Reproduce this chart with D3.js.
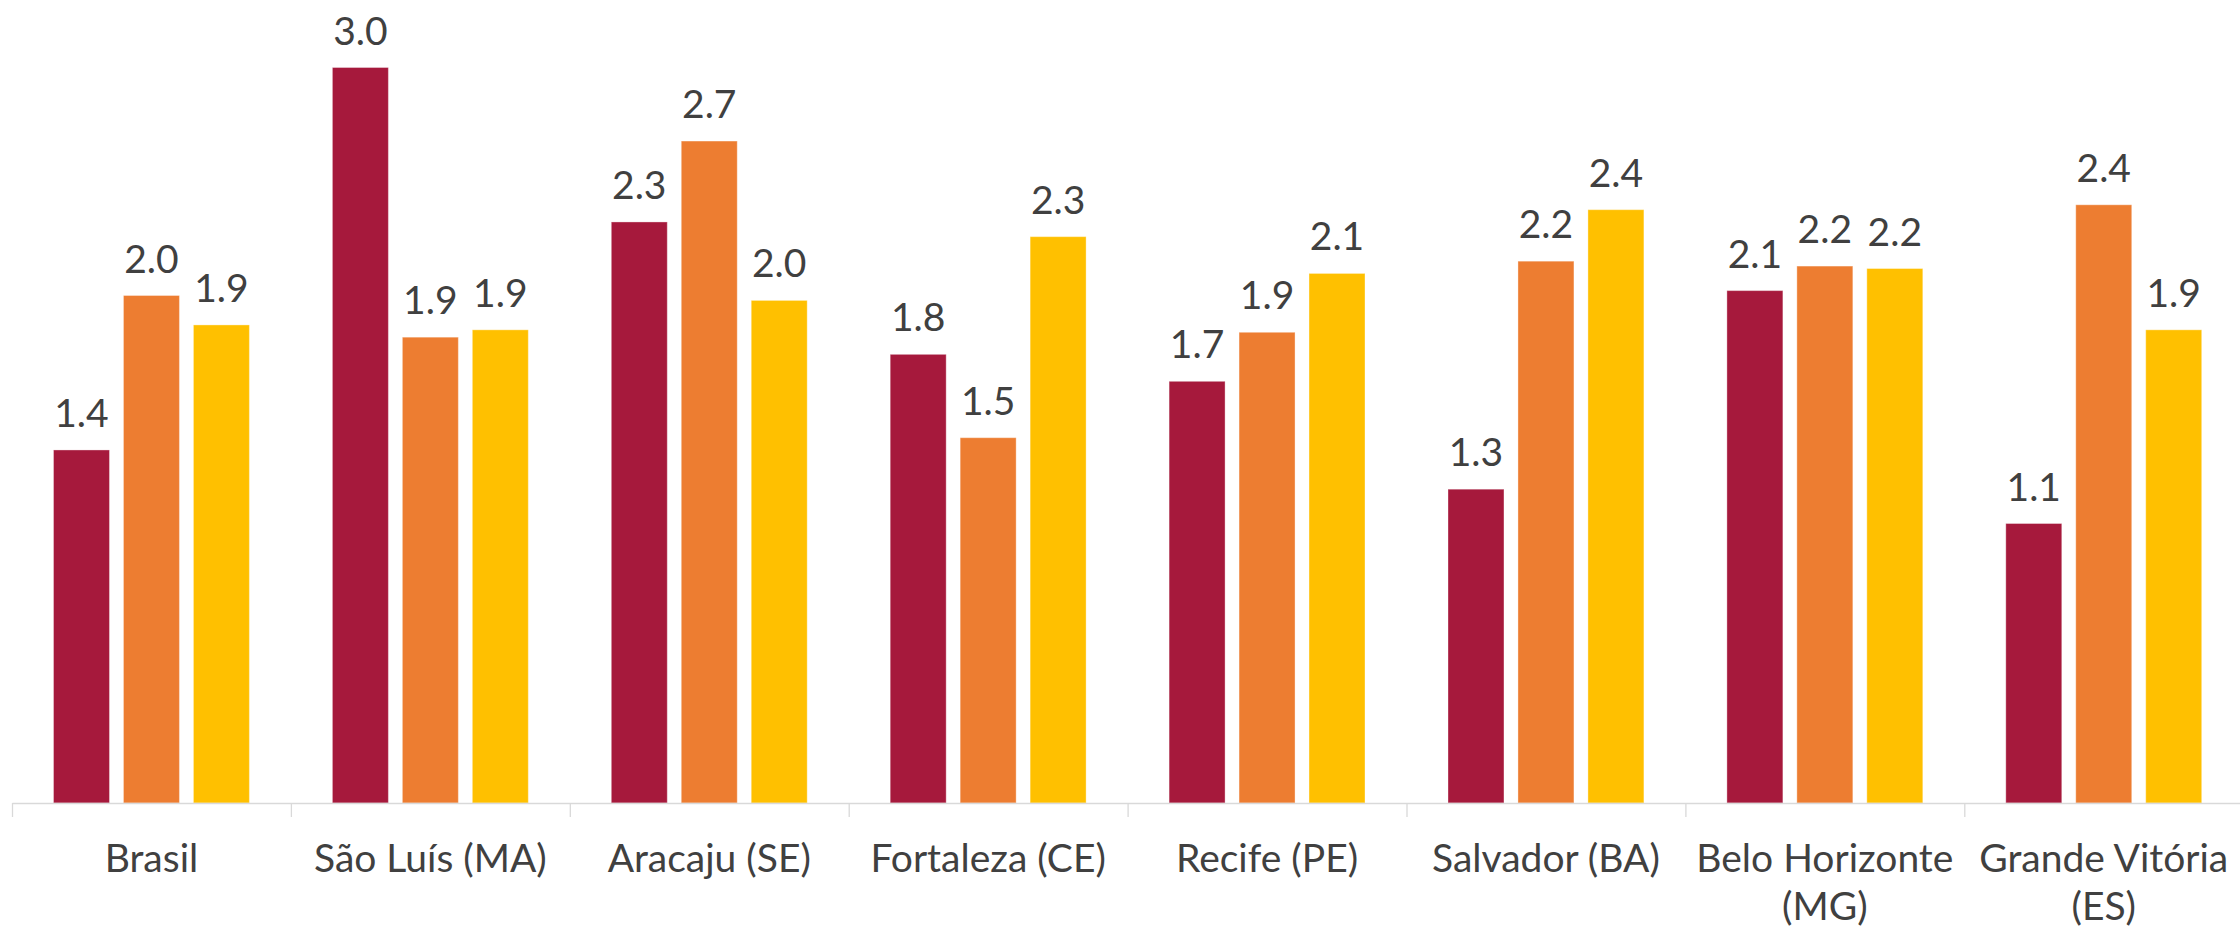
<!DOCTYPE html>
<html>
<head>
<meta charset="utf-8">
<script src="https://cdn.jsdelivr.net/npm/d3@7"></script>
<style>
  body { margin: 0; background: #fff; }
</style>
</head>
<body>
<script>
// Categories (x axis)
const categories = [
  "Brasil",
  "São Luís (MA)",
  "Aracaju (SE)",
  "Fortaleza (CE)",
  "Recife (PE)",
  "Salvador (BA)",
  "Belo Horizonte (MG)",
  "Grande Vitória (ES)",
];

// Bar values
const serie1 = [1.44, 3.0, 2.37, 1.83, 1.72, 1.28, 2.09, 1.14];
const serie2 = [2.07, 1.9, 2.7, 1.49, 1.92, 2.21, 2.19, 2.44];
const serie3 = [1.95, 1.93, 2.05, 2.31, 2.16, 2.42, 2.18, 1.93];

// Data labels as printed on the chart
const labels1 = ["1.4", "3.0", "2.3", "1.8", "1.7", "1.3", "2.1", "1.1"];
const labels2 = ["2.0", "1.9", "2.7", "1.5", "1.9", "2.2", "2.2", "2.4"];
const labels3 = ["1.9", "1.9", "2.0", "2.3", "2.1", "2.4", "2.2", "1.9"];

const seriesKeys = ["serie1", "serie2", "serie3"];
const colors = ["#A6193C", "#ED7D31", "#FFC000"];

function GroupedBars(
  container,
  {
    width = 2240,
    height = 931,
    marginLeft = 12,
    step = 278.9,
    baseline = 803,
    font = "Lato, 'Open Sans', sans-serif",
    fontSize = 39,
    textColor = "#404040",
  } = {}
) {
  const values = [serie1, serie2, serie3];
  const labels = [labels1, labels2, labels3];

  const data = categories.map((c, i) => ({
    category: c,
    bars: seriesKeys.map((k, j) => ({
      key: k,
      value: values[j][i],
      label: labels[j][i],
    })),
  }));

  // Outer band scale: one band per category
  const x0 = d3
    .scaleBand()
    .domain(categories)
    .range([marginLeft, marginLeft + step * categories.length])
    .paddingInner(0)
    .paddingOuter(0);

  // Inner band scale: one bar per series
  const x1 = d3
    .scaleBand()
    .domain(seriesKeys)
    .range([41.5, x0.bandwidth() - 41.5])
    .paddingInner(0.2);

  const color = d3.scaleOrdinal().domain(seriesKeys).range(colors);

  const y = d3.scaleLinear().domain([0, 3]).range([baseline, 67.5]);

  // svg goes in the page first so text can be measured for wrapping
  const svg = d3
    .select(container)
    .append("svg")
    .attr("width", width)
    .attr("height", height)
    .attr("viewBox", [0, 0, width, height]);

  // Bars
  const groups = svg
    .append("g")
    .selectAll("g")
    .data(data)
    .join("g")
    .attr("transform", (d) => `translate(${x0(d.category)},0)`);

  groups
    .selectAll("rect")
    .data((d) => d.bars)
    .join("rect")
    .attr("x", (d) => x1(d.key))
    .attr("width", x1.bandwidth())
    .attr("y", (d) => y(d.value))
    .attr("height", (d) => y(0) - y(d.value))
    .attr("fill", (d) => color(d.key))
    .attr("stroke", "#fff")
    .attr("stroke-opacity", 0.35)
    .attr("stroke-width", 1);

  // Data labels
  groups
    .selectAll("text")
    .data((d) => d.bars)
    .join("text")
    .attr("x", (d) => x1(d.key) + x1.bandwidth() / 2)
    .attr("y", (d) => y(d.value) - 23)
    .attr("text-anchor", "middle")
    .attr("font-family", font)
    .attr("font-size", fontSize)
    .attr("fill", textColor)
    .text((d) => d.label);

  // Axis line with ticks at category boundaries
  const xb = d3
    .scaleLinear()
    .domain([0, categories.length])
    .range(x0.range());

  svg
    .append("g")
    .attr("transform", `translate(0,${baseline})`)
    .call(
      d3
        .axisBottom(xb)
        .tickValues(d3.range(categories.length + 1))
        .tickFormat("")
        .tickSize(14)
        .tickSizeOuter(0)
    )
    .call((g) => g.selectAll("path, line").attr("stroke", "#d9d9d9").attr("stroke-width", 1.3));

  // Category labels, wrapped like the original
  svg
    .append("g")
    .attr("transform", `translate(0,${baseline})`)
    .call(d3.axisBottom(x0).tickSize(0).tickPadding(0))
    .call((g) => g.select(".domain").remove())
    .call((g) =>
      g
        .selectAll("text")
        .attr("font-family", font)
        .attr("font-size", fontSize)
        .attr("fill", textColor)
        .attr("y", 69)
        .attr("dy", null)
        .call(wrap, x0.bandwidth() - 10)
    );

  return svg.node();
}

function wrap(texts, maxWidth) {
  texts.each(function () {
    const text = d3.select(this);
    const words = text.text().split(/\s+/);
    const yPos = +text.attr("y");
    text.text(null);
    let line = [];
    let lineNo = 0;
    let tspan = text.append("tspan").attr("x", 0).attr("y", yPos);
    for (const w of words) {
      line.push(w);
      tspan.text(line.join(" "));
      if (tspan.node().getComputedTextLength() > maxWidth && line.length > 1) {
        line.pop();
        tspan.text(line.join(" "));
        line = [w];
        lineNo++;
        tspan = text
          .append("tspan")
          .attr("x", 0)
          .attr("y", yPos + lineNo * 47.5)
          .text(w);
      }
    }
  });
}

GroupedBars(document.body);
</script>
</body>
</html>
